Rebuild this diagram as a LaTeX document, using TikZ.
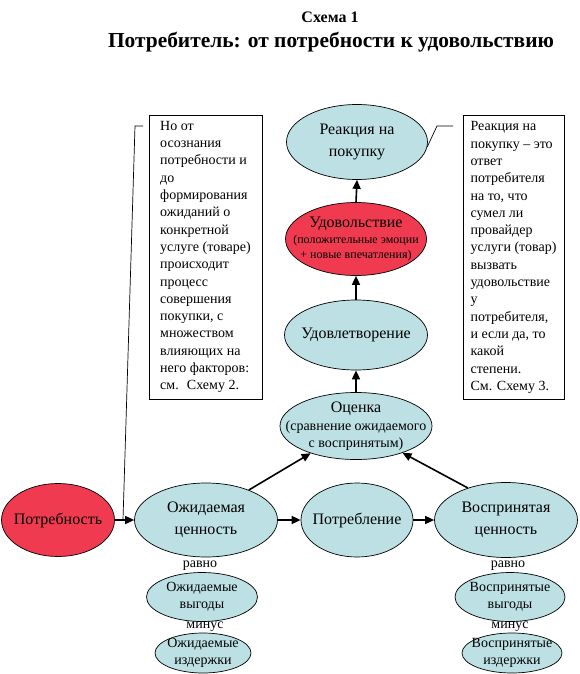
\documentclass[tikz,border=0pt]{standalone}
\usepackage{fontspec}
\setmainfont{Liberation Serif}
\usetikzlibrary{shapes.geometric,arrows.meta}
\definecolor{needred}{RGB}{240,58,80}
\definecolor{valueblue}{RGB}{188,224,227}

\begin{document}
\begin{tikzpicture}[x=1pt, y=-1pt,
    every node/.style={inner sep=0pt, align=center},
    every label/.style={inner sep=0pt, align=center},
    oval/.style={draw, ellipse, line width=0.7pt},
    need/.style={oval, fill=needred},
    value/.style={oval, fill=valueblue},
    big/.style={font=\fontsize{16}{22}\selectfont},
    mid/.style={font=\fontsize{14}{17}\selectfont},
    tiny/.style={font=\fontsize{12}{15}\selectfont},
    note/.style={draw, rectangle, align=left, line width=0.7pt, minimum height=284pt, font=\fontsize{14}{17.3}\selectfont},
    flow/.style={-{Triangle[length=9pt,width=8pt]}, line width=1.6pt},
    callout/.style={line width=0.7pt}
  ]
  \useasboundingbox (0,0) rectangle (579,674);

  % Заголовок
  \node[font=\bfseries\fontsize{16}{19}\selectfont] (scheme) at (330,17) {Схема 1};
  \node[font=\bfseries\fontsize{21.4}{25}\selectfont] (title) at (331,42) {Потребитель: от потребности к удовольствию};

  % Верхняя цепочка
  \node[value, minimum width=141pt, minimum height=75pt, label={[big]center:{Реакция на\\покупку}}] (react) at (357,142) {};
  \node[need, minimum width=141pt, minimum height=73pt, label={[tiny]center:{{\fontsize{16}{18}\selectfont Удовольствие}\\[1pt](положительные эмоции\\+ новые впечатления)}}] (joy) at (356,239) {};
  \node[value, minimum width=143pt, minimum height=70pt, label={[big]center:{Удовлетворение}}] (sat) at (356,335) {};
  \node[value, minimum width=152pt, minimum height=67pt, label={[mid]center:{{\fontsize{16}{18}\selectfont Оценка}\\[1pt](сравнение ожидаемого\\с воспринятым)}}] (est) at (356,426) {};

  % Нижняя цепочка
  \node[need, minimum width=113pt, minimum height=73pt, label={[big]center:{Потребность}}] (need) at (58,520) {};
  \node[value, minimum width=143pt, minimum height=74pt, label={[big]center:{Ожидаемая\\ценность}}] (exp) at (206,520) {};
  \node[value, minimum width=112pt, minimum height=74pt, label={[big]center:{Потребление}}] (use) at (357,520) {};
  \node[value, minimum width=143pt, minimum height=75pt, label={[big]center:{Воспринятая\\ценность}}] (perc) at (506,520) {};

  % Выгоды и издержки
  \node[mid, anchor=base] (eq1) at (200,567) {равно};
  \node[value, minimum width=111pt, minimum height=49pt, label={[mid]center:{Ожидаемые\\выгоды}}] (gain1) at (202,597) {};
  \node[mid, anchor=base] (minus1) at (205,628) {минус};
  \node[value, minimum width=96pt, minimum height=40pt, label={[mid]center:{Ожидаемые\\издержки}}] (cost1) at (203,653) {};
  \node[mid, anchor=base] (eq2) at (508,567) {равно};
  \node[value, minimum width=110pt, minimum height=49pt, label={[mid]center:{Воспринятые\\выгоды}}] (gain2) at (510,597) {};
  \node[mid, anchor=base] (minus2) at (510,628) {минус};
  \node[value, minimum width=100pt, minimum height=40pt, label={[mid]center:{Воспринятые\\издержки}}] (cost2) at (512,653) {};

  % Пояснения
  \node[note, minimum width=113pt] (note1) at (205.5,257) {Но от\\осознания\\потребности и\\до\\формирования\\ожиданий о\\конкретной\\услуге (товаре)\\происходит\\процесс\\совершения\\покупки, с\\множеством\\влияющих на\\него факторов:\\см.~ Схему 2.};
  \node[note, minimum width=101pt] (note2) at (513.5,257.5) {Реакция на\\покупку – это\\ответ\\потребителя\\на то, что\\сумел ли\\провайдер\\услуги (товар)\\вызвать\\удовольствие\\у\\потребителя,\\и если да, то\\какой\\степени.\\См. Схему 3.};

  % Стрелки
  \draw[flow] (need.east) -- (exp.west);
  \draw[flow] (exp.east) -- (use.west);
  \draw[flow] (use.east) -- (perc.west);
  \draw[flow] (exp.35) -- (est.211);
  \draw[flow] (perc.140) -- (est.330);
  \draw[flow] (est.north) -- (sat.south);
  \draw[flow] (sat.north) -- (joy.south);
  \draw[flow] (joy.north) -- (react.south);

  % Выноски
  \coordinate (c1) at (143,126);
  \coordinate (c1b) at (135,126);
  \coordinate (c1e) at (123,520);
  \draw[callout] (c1) -- (c1b) -- (c1e);
  \coordinate (c2) at (453,126);
  \coordinate (c2b) at (437,126);
  \draw[callout] (c2) -- (c2b) -- (react.-4);
\end{tikzpicture}
\end{document}
